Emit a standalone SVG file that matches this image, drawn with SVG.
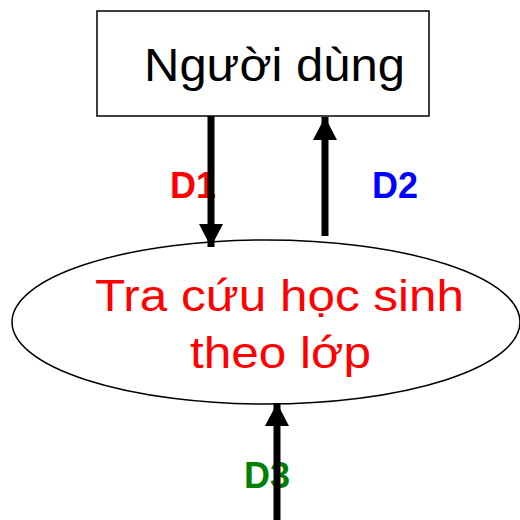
<svg xmlns="http://www.w3.org/2000/svg" width="520" height="520" viewBox="0 0 520 520">
  <style>
    .shape { fill: #ffffff; stroke: #000000; stroke-width: 1.5; }
    .name { font-family: "Liberation Sans", Arial, sans-serif; }
    .flow-label { font-family: "Liberation Sans", Arial, sans-serif; font-weight: bold; font-size: 36px; }
    .flow { stroke: #000000; stroke-width: 7; fill: none; }
  </style>
  <defs>
    <marker id="head" markerUnits="userSpaceOnUse" markerWidth="24" markerHeight="24" viewBox="0 0 24 24" refX="23" refY="12" orient="auto">
      <path d="M0,0 L23,12 L0,24 Z" fill="#000000"/>
    </marker>
  </defs>

  <!-- external entity: user -->
  <g id="nguoi-dung">
    <rect class="shape" x="97" y="11" width="332" height="105"/>
    <text class="name" x="144" y="81" font-size="46" fill="#000000" textLength="261" lengthAdjust="spacingAndGlyphs">Người dùng</text>
  </g>

  <!-- process -->
  <g id="tra-cuu">
    <ellipse class="shape" cx="266" cy="322" rx="254" ry="82"/>
    <text class="name" x="95" y="311" font-size="45" fill="#ff0000" textLength="369" lengthAdjust="spacingAndGlyphs">Tra cứu học sinh</text>
    <text class="name" x="190" y="368" font-size="45" fill="#ff0000" textLength="181" lengthAdjust="spacingAndGlyphs">theo lớp</text>
  </g>

  <!-- flow labels -->
  <g id="labels">
    <text class="flow-label" x="170" y="198" fill="#ff0000">D1</text>
    <text class="flow-label" x="372" y="198" fill="#0000ff">D2</text>
    <text class="flow-label" x="244" y="488" fill="#008000">D3</text>
  </g>

  <!-- data flows -->
  <g id="connectors">
    <line class="flow" x1="211" y1="116" x2="211" y2="247" marker-end="url(#head)"/>
    <line class="flow" x1="325" y1="236" x2="325" y2="117" marker-end="url(#head)"/>
    <line class="flow" x1="277" y1="520" x2="277" y2="403" marker-end="url(#head)"/>
  </g>
</svg>
